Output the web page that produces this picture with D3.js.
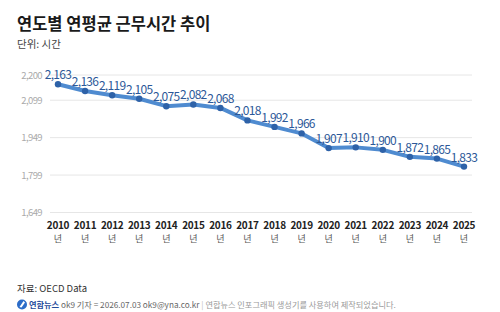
<!DOCTYPE html>
<html>
<head>
<meta charset="utf-8">
<script src="https://cdn.jsdelivr.net/npm/d3@7"></script>
<style>
  body { margin: 0; background: #fff; }
  svg text { font-family: "Noto Sans CJK KR", "Noto Sans", sans-serif; }
</style>
</head>
<body>
<div id="chart"></div>
<script>
// data
var years = ["2010","2011","2012","2013","2014","2015","2016","2017","2018","2019","2020","2021","2022","2023","2024","2025"];
var hours = [2163, 2136, 2119, 2105, 2075, 2082, 2068, 2018, 1992, 1966, 1907, 1910, 1900, 1872, 1865, 1833];
var yTicks = [1649, 1799, 1949, 2099, 2200];

var W = 500, H = 312;
var svg = d3.select("#chart").append("svg")
    .attr("width", W).attr("height", H);

// titles
svg.append("text").attr("x", 17).attr("y", 30)
  .attr("font-size", 16.5).attr("font-weight", 700).attr("fill", "#1a1a1a")
  .text("연도별 연평균 근무시간 추이");
svg.append("text").attr("x", 17).attr("y", 48)
  .attr("font-size", 10.5).attr("fill", "#444")
  .text("단위: 시간");

// scales
var x = d3.scalePoint().domain(years).range([58, 464]);
var y = d3.scaleLinear().domain([1649, 2200]).range([212.5, 75]);

// grid
svg.append("g").selectAll("line").data(yTicks).enter().append("line")
  .attr("x1", 50).attr("x2", 472)
  .attr("y1", function(d) { return y(d); })
  .attr("y2", function(d) { return y(d); })
  .attr("stroke", "#e6e6e6").attr("stroke-width", 1);

// y axis labels
svg.append("g").selectAll("text").data(yTicks).enter().append("text")
  .attr("x", 42).attr("y", function(d) { return y(d) + 3.5; })
  .attr("text-anchor", "end")
  .attr("font-family", "Lato, sans-serif")
  .attr("font-size", 9.5).attr("fill", "#aaa").attr("letter-spacing", -0.6)
  .text(function(d) { return d3.format(",")(d); });

// x axis labels
var xl = svg.append("g").selectAll("g").data(years).enter().append("g")
  .attr("transform", function(d) { return "translate(" + x(d) + ",0)"; });
xl.append("text").attr("y", 229).attr("text-anchor", "middle")
  .attr("font-family", "'Noto Sans', sans-serif")
  .attr("font-size", 10).attr("font-weight", 700).attr("fill", "#222")
  .attr("letter-spacing", -0.3)
  .text(function(d) { return d; });
xl.append("text").attr("y", 242).attr("text-anchor", "middle")
  .attr("font-size", 9).attr("fill", "#555")
  .text("년");

// line
var line = d3.line()
  .x(function(d, i) { return x(years[i]); })
  .y(function(d) { return y(d); });
svg.append("path").datum(hours)
  .attr("d", line)
  .attr("fill", "none")
  .attr("stroke", "#4f8bd0").attr("stroke-width", 4)
  .attr("stroke-linejoin", "round");

svg.append("g").selectAll("circle").data(hours).enter().append("circle")
  .attr("cx", function(d, i) { return x(years[i]); })
  .attr("cy", function(d) { return y(d); })
  .attr("r", 3.2).attr("fill", "#2e62a8");

// value labels
svg.append("g").selectAll("text").data(hours).enter().append("text")
  .attr("x", function(d, i) { return x(years[i]); })
  .attr("y", function(d) { return y(d) - 5; })
  .attr("text-anchor", "middle")
  .attr("font-family", "Lato, sans-serif")
  .attr("font-size", 12).attr("fill", "#2c5898").attr("letter-spacing", -0.7)
  .text(function(d) { return d3.format(",")(d); });

// source
svg.append("text").attr("x", 17).attr("y", 292)
  .attr("font-size", 9.5).attr("fill", "#333")
  .text("자료: OECD Data");

// footer
svg.append("circle").attr("cx", 22).attr("cy", 304.5).attr("r", 5).attr("fill", "#2c6cc8");
svg.append("path").attr("d", "M19.5,307 L23.5,301 L25,302.5 L21.5,307.5 Z").attr("fill", "#fff");
var ft = svg.append("text").attr("x", 29).attr("y", 308).attr("font-size", 8.2);
ft.append("tspan").attr("font-weight", 700).attr("fill", "#1f4a9a").text("연합뉴스");
ft.append("tspan").attr("fill", "#666").text(" ok9 기자 = 2026.07.03 ok9@yna.co.kr");
ft.append("tspan").attr("fill", "#bbb").text(" | ");
ft.append("tspan").attr("fill", "#999").text("연합뉴스 인포그래픽 생성기를 사용하여 제작되었습니다.");
</script>
</body>
</html>
